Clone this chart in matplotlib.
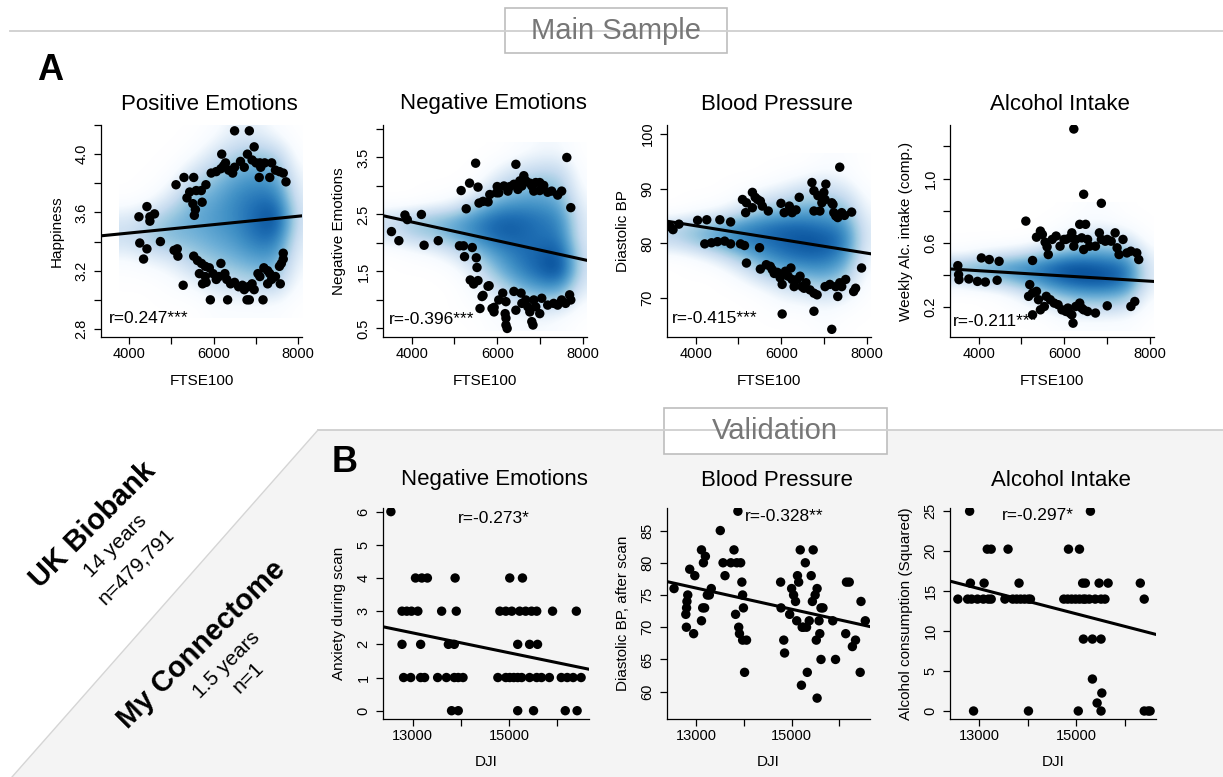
import numpy as np
import matplotlib
matplotlib.use('Agg')
import matplotlib.pyplot as plt
from matplotlib.colors import LinearSegmentedColormap
from matplotlib.patches import Polygon, Rectangle

plt.rcParams['font.family'] = ['Liberation Sans', 'DejaVu Sans']

W, H = 1223, 777

# ---- A: UK Biobank, FTSE100 vs outcome (outlying points over a density cloud) ----
pos_pts = [(4230, 3.57), (4420, 3.64), (4490, 3.57), (4600, 3.59), (4490, 3.54), (4740, 3.40),
           (4250, 3.39), (4420, 3.35), (4340, 3.28), (5280, 3.10),
           (5110, 3.79), (5300, 3.84), (5530, 3.84), (5370, 3.70), (5435, 3.74), (5590, 3.75),
           (5710, 3.75), (5820, 3.79), (5510, 3.66), (5570, 3.62), (5545, 3.58), (5730, 3.67),
           (5945, 3.87), (6065, 3.88), (6195, 4.00), (6175, 3.90), (6285, 3.94), (6360, 3.89),
           (6455, 3.87), (6500, 3.91), (6240, 3.92), (6640, 3.95), (6730, 3.91), (6805, 4.00),
           (6915, 3.96), (6965, 4.05), (7100, 3.94), (7120, 3.91), (7010, 3.94), (6500, 4.16),
           (6850, 4.16), (7215, 3.94), (7380, 3.94), (7470, 3.89), (7565, 3.88), (7655, 3.87),
           (7720, 3.81), (7335, 3.84), (7085, 3.84),
           (5065, 3.34), (5140, 3.35), (5155, 3.30), (5530, 3.30), (5620, 3.27), (5715, 3.25),
           (5805, 3.23), (5665, 3.18), (5805, 3.16), (5900, 3.22), (5990, 3.18), (6065, 3.14),
           (6130, 3.16), (6175, 3.25), (6270, 3.18), (6315, 3.14), (6405, 3.11), (6500, 3.12),
           (6595, 3.09), (6685, 3.10), (6730, 3.07), (6825, 3.09), (6915, 3.11), (6965, 3.07),
           (7055, 3.18), (7100, 3.16), (7195, 3.22), (7285, 3.20), (7335, 3.18), (7380, 3.14),
           (7470, 3.16), (7565, 3.23), (7610, 3.25), (7655, 3.28), (7655, 3.32), (7585, 3.11),
           (7285, 3.11), (5740, 3.11), (5825, 3.12),
           (5925, 3.00), (6335, 3.00), (6795, 3.00), (6850, 3.00), (7175, 3.00)]

neg_pts = [(3528, 2.20), (3701, 2.04), (3843, 2.49), (3898, 2.41), (4228, 2.50), (4291, 1.96),
           (4622, 2.04), (5118, 1.95), (5213, 1.95), (5236, 1.76), (5417, 1.92), (5512, 1.74),
           (5528, 1.57), (5370, 1.35), (5449, 1.28), (5551, 1.34), (5669, 1.08), (5811, 1.25),
           (5598, 0.85), (5929, 0.87), (5276, 2.60), (5157, 2.92), (5354, 3.05), (5496, 3.40),
           (5551, 2.98), (5575, 2.70), (5669, 2.73), (5787, 2.72), (5827, 2.85), (5984, 2.88),
           (6000, 2.99), (6037, 2.88), (6158, 3.00), (6298, 2.99), (6391, 3.03), (6437, 3.38),
           (6484, 2.94), (6530, 3.09), (6623, 3.18), (6670, 3.09), (6763, 3.05), (6809, 3.00),
           (6856, 2.91), (6902, 3.06), (6995, 3.06), (6995, 2.92), (7088, 3.01), (7181, 2.89),
           (7274, 2.91), (7414, 2.84), (7507, 2.91), (7628, 3.50), (7721, 2.62), (6251, 2.91),
           (6577, 3.00),
           (6130, 1.12), (6205, 0.97), (6186, 0.76), (6205, 0.68), (6205, 0.56), (6233, 0.50),
           (6391, 1.15), (6437, 0.82), (6558, 1.12), (6577, 0.94), (6670, 1.00), (6716, 0.88),
           (6763, 0.79), (6809, 0.62), (6837, 0.56), (6856, 1.00), (6902, 0.88), (6995, 0.76),
           (7042, 1.03), (7181, 0.91), (7321, 0.94), (7414, 0.91), (7507, 1.00), (7600, 0.94),
           (7693, 1.09), (7721, 1.00), (5879, 0.85), (5926, 0.79), (5786, 1.24), (5646, 1.06),
           (6037, 1.00)]

bp_pts = [(3406, 83.0), (3471, 82.5), (3610, 83.5), (4046, 84.2), (4260, 84.3), (4566, 84.3),
          (4817, 83.9), (4213, 79.9), (4371, 80.1), (4510, 80.3), (4678, 80.4), (4817, 79.9),
          (5049, 79.9), (5142, 79.6), (5188, 76.4), (5494, 79.2), (5513, 75.3), (5652, 76.1),
          (5745, 75.8), (5791, 75.2), (5838, 74.5),
          (5095, 88.0), (5188, 87.4), (5327, 89.3), (5392, 88.4), (5448, 88.0), (5513, 87.7),
          (5559, 86.8), (5698, 85.9), (5169, 85.6), (5327, 86.5), (5995, 87.3), (6070, 85.6),
          (6190, 86.8), (6255, 85.6), (6348, 86.1), (6422, 88.4), (6719, 91.1), (6766, 89.6),
          (6859, 88.7), (6905, 85.9), (6998, 89.3), (7044, 90.8), (6951, 87.4), (7183, 87.4),
          (7230, 85.6), (7276, 85.0), (7323, 84.7), (7369, 93.9), (7415, 85.6), (7480, 85.1),
          (7647, 85.7), (7211, 87.1), (7026, 88.0), (6766, 85.9),
          (5912, 74.7), (5977, 73.7), (6023, 72.5), (6098, 74.9), (6163, 74.0), (6227, 75.5),
          (6255, 73.4), (6302, 72.1), (6376, 73.4), (6441, 74.0), (6487, 72.1), (6534, 71.8),
          (6580, 72.8), (6673, 71.5), (6766, 70.9), (6840, 70.6), (6766, 67.6), (6023, 67.1),
          (7026, 72.1), (7137, 72.5), (7276, 72.1), (7323, 70.3), (7369, 72.8), (7415, 72.1),
          (7508, 73.4), (7740, 71.8), (7694, 71.2), (7879, 75.5), (7183, 64.3)]

alc_pts = [(3513, 0.458), (3531, 0.402), (3540, 0.371), (3770, 0.375), (3972, 0.360),
           (4156, 0.356), (4064, 0.506), (4248, 0.496), (4478, 0.485), (4432, 0.367),
           (5103, 0.735), (5260, 0.490), (5352, 0.635), (5444, 0.673), (5490, 0.652),
           (5554, 0.604), (5600, 0.575), (5628, 0.527), (5720, 0.621), (5811, 0.642),
           (5903, 0.579), (5995, 0.621), (6041, 0.621), (6133, 0.631), (6179, 0.662),
           (6225, 0.579), (6271, 0.621), (6363, 0.715), (6409, 0.631), (6501, 0.715),
           (6455, 0.558), (6547, 0.621), (6593, 0.579), (6731, 0.579), (6823, 0.662),
           (6869, 0.621), (6961, 0.610), (7007, 0.621), (7099, 0.610), (7191, 0.662),
           (7237, 0.569), (7283, 0.527), (7375, 0.621), (7467, 0.537), (7559, 0.548),
           (7697, 0.537), (7743, 0.496), (6225, 1.308), (6455, 0.902), (6869, 0.846),
           (5195, 0.340), (5168, 0.267), (5260, 0.288), (5352, 0.298), (5398, 0.246),
           (5444, 0.183), (5536, 0.204), (5582, 0.267), (5674, 0.246), (5766, 0.225),
           (5857, 0.215), (5949, 0.183), (6041, 0.173), (6087, 0.194), (6179, 0.152),
           (6207, 0.100), (6133, 0.163), (6271, 0.204), (6363, 0.225), (6409, 0.194),
           (6455, 0.183), (6547, 0.173), (6731, 0.163), (7007, 0.208), (7559, 0.204),
           (7651, 0.235), (5260, 0.152)]

pos_dens_x = [4000, 4500, 5000, 5500, 6000, 6500, 7000, 7500, 8000]
pos_dens_y = [4.15, 4.00, 3.85, 3.70, 3.55, 3.40, 3.25, 3.10, 2.95]
pos_dens = [[0, 0, 0, 0, 0.05, 0.15, 0.15, 0.05, 0],
            [0, 0, 0, 0.05, 0.2, 0.3, 0.35, 0.3, 0.02],
            [0, 0, 0.05, 0.25, 0.35, 0.45, 0.5, 0.45, 0.1],
            [0, 0.05, 0.2, 0.4, 0.45, 0.55, 0.6, 0.6, 0.15],
            [0.2, 0.3, 0.4, 0.45, 0.5, 0.55, 0.65, 0.75, 0.2],
            [0.25, 0.35, 0.4, 0.4, 0.45, 0.5, 0.6, 0.6, 0.15],
            [0.05, 0.1, 0.15, 0.3, 0.35, 0.4, 0.45, 0.45, 0.1],
            [0, 0, 0.05, 0.1, 0.2, 0.25, 0.3, 0.3, 0.05],
            [0, 0, 0, 0, 0.05, 0.05, 0.05, 0.05, 0]]

neg_dens_x = [3500, 4000, 4500, 5000, 5500, 6000, 6500, 7000, 7500, 8000]
neg_dens_y = [3.6, 3.3, 3.0, 2.7, 2.4, 2.1, 1.8, 1.5, 1.2, 0.9, 0.6]
neg_dens = [[0, 0, 0, 0, 0, 0, 0.05, 0.1, 0.1, 0],
            [0, 0, 0, 0, 0, 0.1, 0.2, 0.25, 0.25, 0.02],
            [0, 0, 0, 0, 0.05, 0.25, 0.35, 0.4, 0.35, 0.05],
            [0, 0, 0.05, 0.1, 0.3, 0.45, 0.5, 0.5, 0.45, 0.1],
            [0.25, 0.35, 0.4, 0.45, 0.55, 0.65, 0.65, 0.6, 0.55, 0.15],
            [0.2, 0.3, 0.35, 0.45, 0.55, 0.65, 0.65, 0.6, 0.6, 0.15],
            [0, 0.05, 0.1, 0.2, 0.35, 0.5, 0.6, 0.65, 0.7, 0.2],
            [0, 0, 0, 0.05, 0.2, 0.4, 0.55, 0.65, 0.75, 0.2],
            [0, 0, 0, 0, 0.1, 0.25, 0.4, 0.5, 0.5, 0.15],
            [0, 0, 0, 0, 0.05, 0.1, 0.2, 0.25, 0.25, 0.05],
            [0, 0, 0, 0, 0, 0.05, 0.05, 0.1, 0.05, 0]]

bp_dens_x = [3500, 4000, 4500, 5000, 5500, 6000, 6500, 7000, 7500, 8000]
bp_dens_y = [95, 92, 89, 86, 83, 80, 77, 74, 71, 68, 65]
bp_dens = [[0, 0, 0, 0, 0, 0, 0, 0.05, 0.05, 0],
           [0, 0, 0, 0, 0, 0.05, 0.1, 0.15, 0.1, 0],
           [0, 0, 0, 0.05, 0.15, 0.2, 0.3, 0.3, 0.25, 0.05],
           [0, 0.05, 0.1, 0.2, 0.35, 0.4, 0.45, 0.45, 0.4, 0.1],
           [0.3, 0.4, 0.45, 0.55, 0.6, 0.65, 0.65, 0.6, 0.55, 0.15],
           [0.25, 0.35, 0.45, 0.55, 0.6, 0.65, 0.7, 0.7, 0.6, 0.15],
           [0, 0.05, 0.15, 0.3, 0.45, 0.55, 0.6, 0.6, 0.5, 0.1],
           [0, 0, 0, 0.1, 0.25, 0.35, 0.4, 0.45, 0.35, 0.05],
           [0, 0, 0, 0, 0.05, 0.15, 0.2, 0.25, 0.2, 0.02],
           [0, 0, 0, 0, 0, 0.05, 0.05, 0.1, 0.05, 0],
           [0, 0, 0, 0, 0, 0, 0, 0.05, 0, 0]]

alc_dens_x = [3500, 4000, 4500, 5000, 5500, 6000, 6500, 7000, 7500, 8000]
alc_dens_y = [0.8, 0.7, 0.6, 0.5, 0.42, 0.34, 0.26, 0.18, 0.1]
alc_dens = [[0, 0, 0, 0, 0, 0, 0.05, 0.05, 0, 0],
            [0, 0, 0, 0, 0, 0.05, 0.1, 0.1, 0.05, 0],
            [0, 0, 0, 0, 0.05, 0.15, 0.25, 0.25, 0.2, 0.02],
            [0.05, 0.1, 0.15, 0.2, 0.3, 0.4, 0.45, 0.45, 0.4, 0.1],
            [0.4, 0.45, 0.5, 0.55, 0.6, 0.7, 0.7, 0.65, 0.6, 0.15],
            [0.2, 0.3, 0.35, 0.45, 0.55, 0.65, 0.7, 0.7, 0.6, 0.15],
            [0, 0, 0.05, 0.15, 0.3, 0.4, 0.45, 0.45, 0.4, 0.08],
            [0, 0, 0, 0.05, 0.1, 0.2, 0.25, 0.25, 0.2, 0.03],
            [0, 0, 0, 0, 0, 0.05, 0.05, 0.05, 0.05, 0]]

# fitted regression lines (two points on each line)
pos_fit = [(3352, 3.44), (8046, 3.575)]
neg_fit = [(3321, 2.48), (8130, 1.69)]
bp_fit = [(3304, 84.07), (8112, 78.07)]
alc_fit = [(3329, 0.4375), (8083, 0.36)]

# ---- B: My Connectome, DJI vs outcome ----
anx_x = [12547,
         13058, 13189, 13305, 13881, 15016, 15280,
         12778, 12877, 12975, 13107, 13601, 13905, 14811, 14934, 15058, 15222, 15346, 15469,
         15576, 15905, 16399,
         12778, 13165, 13741, 13864, 15181, 15428, 15593,
         12811, 12959, 13165, 13247, 13518, 13700, 13864, 13946, 14045, 14769, 14934, 15016,
         15099, 15181, 15263, 15428, 15576, 15675, 15839, 16086, 16210, 16333, 16498,
         13807, 13946, 15181, 15510, 16169, 16415]
anx_y = [6,
         4, 4, 4, 4, 4, 4,
         3, 3, 3, 3, 3, 3, 3, 3, 3, 3, 3, 3, 3, 3, 3,
         2, 2, 2, 2, 2, 2, 2,
         1, 1, 1, 1, 1, 1, 1, 1, 1, 1, 1, 1, 1, 1, 1, 1, 1, 1, 1, 1, 1, 1, 1,
         0, 0, 0, 0, 0, 0]

dbp_pts = [(12531, 76), (12778, 72), (12802, 74), (12819, 75), (12794, 73), (12790, 70),
           (12860, 79), (12942, 69), (12967, 78), (13107, 82), (13148, 80), (13189, 81),
           (13107, 71), (13132, 73), (13173, 73), (13230, 75), (13272, 75), (13313, 76),
           (13502, 85), (13560, 80), (13601, 78), (13724, 80), (13790, 82), (13823, 72),
           (13848, 80), (13889, 70), (13905, 69), (13930, 80), (13955, 77), (13971, 75),
           (13988, 73), (13971, 68), (14053, 68), (14012, 63), (13872, 88),
           (14769, 77), (14778, 73), (14835, 68), (14852, 66), (14959, 72), (15000, 76),
           (15041, 75), (15082, 74), (15107, 71), (15123, 78), (15148, 77), (15181, 82),
           (15206, 61), (15222, 70), (15247, 70), (15288, 80), (15313, 70), (15329, 63),
           (15370, 71), (15411, 78), (15436, 74), (15453, 82), (15494, 75), (15518, 68),
           (15535, 59), (15535, 76), (15576, 71), (15592, 69), (15617, 73), (15658, 73),
           (15617, 65), (15864, 71), (15922, 65), (16136, 69), (16152, 77), (16210, 77),
           (16276, 67), (16342, 68), (16440, 63), (16457, 74), (16547, 71)]

alq_pts = [(12798, 25), (15291, 25),
           (13162, 20.25), (13243, 20.25), (13591, 20.25), (14838, 20.25), (15065, 20.25),
           (12814, 16), (13097, 16), (13818, 16), (15130, 16), (15186, 16), (15470, 16),
           (15656, 16), (16320, 16),
           (12555, 14), (12757, 14), (12838, 14), (12960, 14), (13081, 14), (13186, 14),
           (13243, 14), (13526, 14), (13688, 14), (13769, 14), (13850, 14), (13931, 14),
           (14012, 14), (14053, 14), (14741, 14), (14822, 14), (14903, 14), (14984, 14),
           (15065, 14), (15146, 14), (15186, 14), (15267, 14), (15389, 14), (15510, 14),
           (15591, 14), (16401, 14),
           (15146, 9), (15332, 9), (15510, 9), (15332, 4), (15526, 2.25), (15429, 1),
           (12879, 0), (14012, 0), (15040, 0), (15510, 0), (16401, 0), (16482, 0), (16522, 0)]

anx_fit = [(12383, 2.53), (16662, 1.25)]
dbp_fit = [(12383, 77.08), (16646, 70.1)]
alq_fit = [(12393, 16.25), (16644, 9.58)]

blues9 = ['#F7FBFF', '#DEEBF7', '#C6DBEF', '#9ECAE1', '#6BAED6',
          '#4292C6', '#2171B5', '#08519C', '#08306B']
dens_cmap = LinearSegmentedColormap.from_list('smooth', ['#FFFFFF'] + blues9)

fig = plt.figure(figsize=(W / 100, H / 100), dpi=100)

# background: header lines, boxes and the grey validation band
bg = fig.add_axes([0, 0, 1, 1])
bg.set_xlim(0, W)
bg.set_ylim(H, 0)
bg.axis('off')
bg.set_zorder(-1)
bg.add_patch(Polygon([(318, 430), (W, 430), (W, H), (12, H)], closed=True,
                     facecolor='#f4f4f4', edgecolor='none'))
bg.plot([318, W], [430, 430], color='#cfcfcf', lw=1.3)
bg.plot([318, 12], [430, H], color='#d5d5d5', lw=1.0)
bg.plot([10, W], [31, 31], color='#cfcfcf', lw=1.3)
bg.add_patch(Rectangle((505, 8), 222, 45, facecolor='white', edgecolor='#bdbdbd', lw=1.2))
bg.add_patch(Rectangle((664, 408), 223, 46, facecolor='white', edgecolor='#bdbdbd', lw=1.2))
bg.text(616, 31, 'Main Sample', ha='center', va='center', fontsize=21, color='#777777')
bg.text(775, 431, 'Validation', ha='center', va='center', fontsize=21, color='#777777')
bg.text(50, 70, 'A', ha='center', va='center', fontsize=26, fontweight='bold')
bg.text(345, 463, 'B', ha='center', va='center', fontsize=26, fontweight='bold')

for s, x, y, fs, fw in [('UK Biobank', 93, 525, 21, 'bold'), ('14 years', 116, 546, 15, 'normal'),
                        ('n=479,791', 136, 566, 15, 'normal'),
                        ('My Connectome', 202, 645, 21, 'bold'), ('1.5 years', 227, 665, 15, 'normal'),
                        ('n=1', 248, 678, 15, 'normal')]:
    bg.text(x, y, s, ha='center', va='center', rotation=45, rotation_mode='anchor',
            fontsize=fs, fontweight=fw)


def px_axes(l, t, r, b):
    return fig.add_axes([l / W, 1 - b / H, (r - l) / W, (b - t) / H])


def ftext(x, y, s, **kw):
    fig.text(x / W, 1 - y / H, s, ha='center', va='center', **kw)


def panel(box, title, title_y, xlim, ylim, xticks, xlabels, yticks, ylabels, xlabel, xlabel_y, ylabel):
    l, t, r, b = box
    ax = px_axes(l, t, r, b)
    ax.set_facecolor('none')
    ax.set_xlim(xlim)
    ax.set_ylim(ylim)
    ax.set_xticks(xticks, xlabels)
    ax.set_yticks(yticks, ylabels)
    for side in ['top', 'right']:
        ax.spines[side].set_visible(False)
    for side in ['left', 'bottom']:
        ax.spines[side].set_linewidth(0.9)
    ax.tick_params(direction='out', length=5, width=0.9, labelsize=10.5)
    ax.tick_params(axis='x', pad=2)
    ax.tick_params(axis='y', pad=4, labelrotation=90)
    for lab in ax.get_yticklabels():
        lab.set_va('center')
    ftext((l + r) / 2 + 8, title_y, title, fontsize=16)
    ftext((l + r) / 2, xlabel_y, xlabel, fontsize=11)
    ftext(l - 44, (t + b) / 2, ylabel, fontsize=11, rotation=90)
    return ax


def density(ax, gx, gy, grid):
    dx = (gx[1] - gx[0]) / 2
    dy = abs(gy[1] - gy[0]) / 2
    ax.imshow(np.array(grid), extent=(gx[0] - dx, gx[-1] + dx, gy[-1] - dy, gy[0] + dy),
              origin='upper', aspect='auto', interpolation='bicubic',
              cmap=dens_cmap, vmin=0, vmax=0.78, zorder=1)


def points(ax, xs, ys, fit):
    ax.scatter(xs, ys, s=46, c='black', edgecolors='none', zorder=3)
    ax.axline(fit[0], fit[1], color='black', lw=2.2, zorder=4)


ftse_ticks = [4000, 5000, 6000, 7000, 8000]
ftse_labels = ['4000', '', '6000', '', '8000']
ftse_lim = (3330, 8100)

a_specs = [
    ((101, 125, 302, 337), 'Positive Emotions', (2.745, 4.2),
     [2.8, 3.0, 3.2, 3.4, 3.6, 3.8, 4.0, 4.2], ['2.8', '', '3.2', '', '3.6', '', '4.0', ''],
     'Happiness', pos_pts, pos_fit, (pos_dens_x, pos_dens_y, pos_dens), (3520, 2.873), 'r=0.247***'),
    ((383, 125, 587, 337), 'Negative Emotions', (0.35, 4.07),
     [0.5, 1.0, 1.5, 2.0, 2.5, 3.0, 3.5, 4.0], ['0.5', '', '1.5', '', '2.5', '', '3.5', ''],
     'Negative Emotions', neg_pts, neg_fit, (neg_dens_x, neg_dens_y, neg_dens), (3460, 0.66), 'r=-0.396***'),
    ((667, 125, 871, 337), 'Blood Pressure', (62.9, 101.6),
     [70, 80, 90, 100], ['70', '80', '90', '100'],
     'Diastolic BP', bp_pts, bp_fit, (bp_dens_x, bp_dens_y, bp_dens), (3443, 66.3), 'r=-0.415***'),
    ((950, 125, 1154, 337), 'Alcohol Intake', (0.014, 1.333),
     [0.2, 0.4, 0.6, 0.8, 1.0, 1.2], ['0.2', '', '0.6', '', '1.0', ''],
     'Weekly Alc. intake (comp.)', alc_pts, alc_fit, (alc_dens_x, alc_dens_y, alc_dens), (3402, 0.11), 'r=-0.211***'),
]

for box, title, ylim, yt, yl, ylab, pts, fit, dens, rpos, rtxt in a_specs:
    ax = panel(box, title, 104, ftse_lim, ylim, ftse_ticks, ftse_labels, yt, yl, 'FTSE100', 381, ylab)
    density(ax, *dens)
    xs, ys = np.array(pts).T
    points(ax, xs, ys, fit)
    ax.text(rpos[0], rpos[1], rtxt, ha='left', va='center', fontsize=12.5, zorder=5)

dji_ticks = [13000, 14000, 15000, 16000]
dji_labels = ['13000', '', '15000', '']

dbp_x, dbp_y = np.array(dbp_pts).T
alq_x, alq_y = np.array(alq_pts).T

b_specs = [
    ((383, 508, 589, 719), 'Negative Emotions', (12383, 16662), (-0.25, 6.11),
     [0, 1, 2, 3, 4, 5, 6], ['0', '1', '2', '3', '4', '5', '6'],
     'Anxiety during scan', anx_x, anx_y, anx_fit, (14687, 5.8), 'r=-0.273*'),
    ((667, 508, 870, 719), 'Blood Pressure', (12383, 16646), (55.76, 88.5),
     [60, 65, 70, 75, 80, 85], ['60', '65', '70', '75', '80', '85'],
     'Diastolic BP, after scan', dbp_x, dbp_y, dbp_fit, (14852, 87.2), 'r=-0.328**'),
    ((950, 508, 1156, 719), 'Alcohol Intake', (12393, 16644), (-1.0, 25.4),
     [0, 5, 10, 15, 20, 25], ['0', '5', '10', '15', '20', '25'],
     'Alcohol consumption (Squared)', alq_x, alq_y, alq_fit, (14198, 24.5), 'r=-0.297*'),
]

for box, title, xlim, ylim, yt, yl, ylab, xs, ys, fit, rpos, rtxt in b_specs:
    ax = panel(box, title, 480, xlim, ylim, dji_ticks, dji_labels, yt, yl, 'DJI', 762, ylab)
    points(ax, xs, ys, fit)
    ax.text(rpos[0], rpos[1], rtxt, ha='center', va='center', fontsize=12.5, zorder=5)

fig.savefig('out.png', dpi=100)
